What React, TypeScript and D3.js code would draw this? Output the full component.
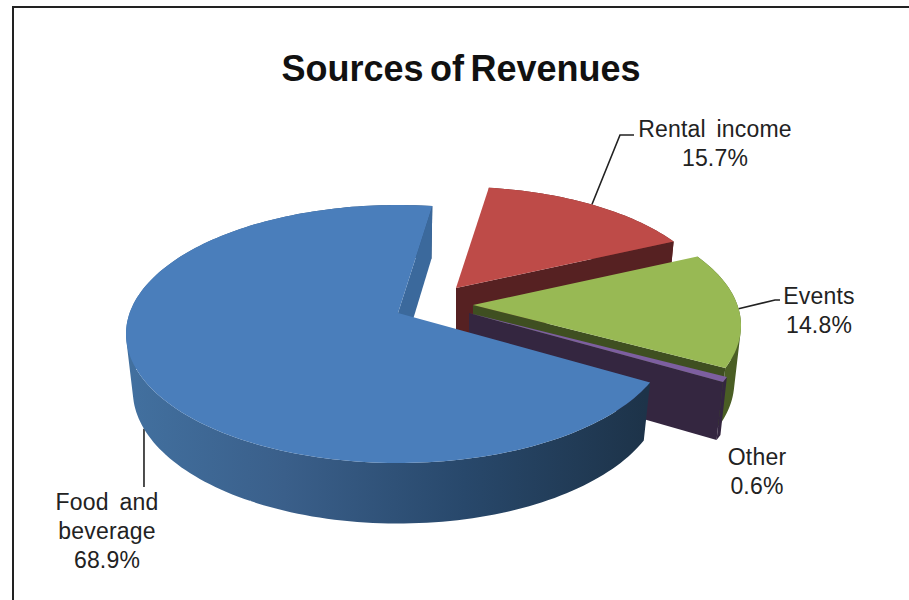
import * as d3 from 'd3';

const categories = ['Food and beverage', 'Rental income', 'Events', 'Other'];
const shares = [68.9, 15.7, 14.8, 0.6];
const shareLabels = ['68.9%', '15.7%', '14.8%', '0.6%'];

const topColors = ['#4a7ebb', '#be4b48', '#98b954', '#7d5fa0'];
const endWallColors = ['#3b699c', '#562122', '#3f4f21', '#342640'];
const rimColors = ['url(#blueRim)', '#6e2a28', '#4a5e24', '#342640'];

// exploded slices: apex of the top face and the radii of its projected circle
const apexes: [number, number][] = [
  [398, 313],
  [456, 288],
  [473, 305],
  [469, 313],
];
const radiiX = [272, 260, 268, 274];
const radiiY = [129, 121, 126, 128];

const WIDTH = 909;
const HEIGHT = 600;
const DEPTH = 56;
const BOTTOM_X = 0.975;
const BOTTOM_Y = 1.03;
// the circle centre sits above the ellipse centre, which is what perspective does
const TILT = 0.163;
const START = (120.5 * Math.PI) / 180;

const pie = d3
  .pie<number>()
  .sort(null)
  .startAngle(START)
  .endAngle(START + 2 * Math.PI);
const arcs = pie(shares);

const project = (i: number, angle: number, scale: number, bottom: boolean) => {
  const rx = radiiX[i] * (bottom ? BOTTOM_X : 1);
  const ry = radiiY[i] * (bottom ? BOTTOM_Y : 1);
  const along = Math.cos(angle) * scale;
  const across = Math.sin(angle) * scale;
  const w = 1 + TILT * along;
  const u = (across * Math.sqrt(1 - TILT * TILT)) / w;
  const v = (along + TILT) / w;
  const [ax, ay] = apexes[i];
  return [ax + rx * u, ay + (bottom ? DEPTH : 0) + ry * (TILT - v)] as [number, number];
};

const line = d3.line();

const sweep = (i: number, bottom: boolean) => {
  const a = arcs[i];
  const steps = Math.max(4, Math.ceil((a.endAngle - a.startAngle) * 40));
  return d3
    .range(steps + 1)
    .map((k) => project(i, a.startAngle + ((a.endAngle - a.startAngle) * k) / steps, 1, bottom));
};

// rim as quads with one winding, in one path, so the side silhouette stays straight
const rimPath = (i: number) => {
  const top = sweep(i, false);
  const bottom = sweep(i, true);
  return d3
    .range(top.length - 1)
    .map((k) => {
      const quad = [top[k], top[k + 1], bottom[k + 1], bottom[k]];
      return line(d3.polygonArea(quad) < 0 ? quad.reverse() : quad) + 'Z';
    })
    .join('');
};

const Slice = ({ i }: { i: number }) => {
  const a = arcs[i];
  return (
    <g>
      <path d={rimPath(i)} fill={rimColors[i]} />
      <path
        d={
          line([
            project(i, a.endAngle, 0, false),
            project(i, a.endAngle, 1, false),
            project(i, a.endAngle, 1, true),
            project(i, a.endAngle, 0, true),
          ]) + 'Z'
        }
        fill={endWallColors[i]}
      />
      <path d={line([project(i, 0, 0, false), ...sweep(i, false)]) + 'Z'} fill={topColors[i]} />
    </g>
  );
};

const midAngle = (i: number) => (arcs[i].startAngle + arcs[i].endAngle) / 2;

const Leader = ({ points }: { points: [number, number][] }) => (
  <path d={line(points) ?? ''} fill="none" stroke="#222" strokeWidth={1.6} />
);

const Label = ({ x, y, lines }: { x: number; y: number; lines: string[] }) => (
  <text
    x={x}
    y={y}
    textAnchor="middle"
    fontFamily="'Liberation Sans', Arial, sans-serif"
    fontSize={23}
    letterSpacing={0.2}
    fill="#222"
  >
    {lines.map((t, k) => (
      <tspan key={k} x={x} dy={k === 0 ? 0 : 29} wordSpacing={4}>
        {t}
      </tspan>
    ))}
  </text>
);

export default function App() {
  const foodAnchor = project(0, midAngle(0), 1, true);
  const rentalAnchor = project(1, midAngle(1), 1, false);
  const eventsAnchor = project(2, midAngle(2), 1, false);
  return (
    <svg
      width={WIDTH}
      height={HEIGHT}
      style={{ position: 'absolute', left: 0, top: 0, display: 'block' }}
    >
      <defs>
        <linearGradient id="blueRim" gradientUnits="userSpaceOnUse" x1={130} x2={645} y1={0} y2={0}>
          <stop offset="0" stopColor="#42709f" />
          <stop offset="0.3" stopColor="#3a5f8a" />
          <stop offset="0.65" stopColor="#28486b" />
          <stop offset="1" stopColor="#1d3349" />
        </linearGradient>
      </defs>
      <rect width={WIDTH} height={HEIGHT} fill="#fff" />
      <rect x={13} y={7} width={WIDTH} height={HEIGHT} fill="none" stroke="#222" strokeWidth={2} />
      <text
        x={461}
        y={81}
        textAnchor="middle"
        fontFamily="'Liberation Sans', Arial, sans-serif"
        fontWeight="bold"
        fontSize={36}
        wordSpacing={-3.5}
        fill="#111"
      >
        Sources of Revenues
      </text>
      <Leader points={[foodAnchor, [foodAnchor[0], 487]]} />
      <Leader points={[rentalAnchor, [620, 135], [634, 135]]} />
      <Leader points={[eventsAnchor, [775, 300], [780, 300]]} />
      {[1, 2, 3, 0].map((i) => (
        <Slice key={i} i={i} />
      ))}
      <Label x={107} y={510} lines={['Food and', 'beverage', shareLabels[0]]} />
      <Label x={715} y={137} lines={[categories[1], shareLabels[1]]} />
      <Label x={819} y={304} lines={[categories[2], shareLabels[2]]} />
      <Label x={757} y={465} lines={[categories[3], shareLabels[3]]} />
    </svg>
  );
}
